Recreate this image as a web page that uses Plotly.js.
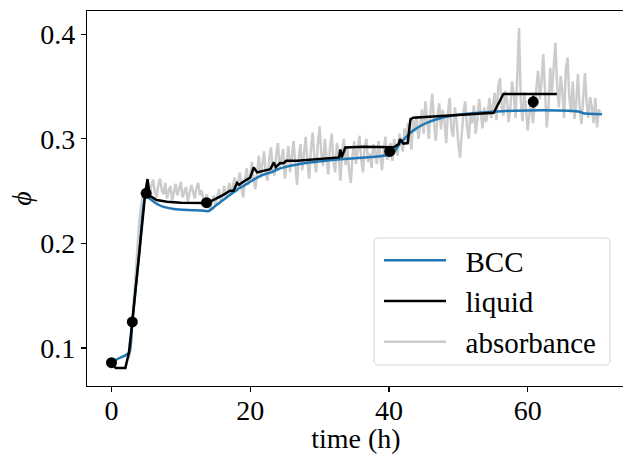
<!DOCTYPE html>
<html>
<head>
<meta charset="utf-8">
<script src="https://cdn.plot.ly/plotly-3.0.1.min.js"></script>
<style>
html,body{margin:0;padding:0;overflow:hidden;background:#fff;}
#chart{width:630px;height:454px;}
</style>
</head>
<body>
<div id="chart"></div>
<script>
// BCC model curve
var bccTime = [0, 1, 2, 2.6, 3.0, 4.0, 4.9, 5.5, 6.5, 7.5, 9, 11, 13, 14, 15, 16, 17, 18, 19, 20, 21, 22, 23, 24, 25, 26, 28, 30, 32, 34, 36, 38, 40, 40.5, 41.5, 42.5, 43.5, 45, 47, 49, 52, 55, 58, 62, 66, 67.5, 68, 70.7];
var bccPhi  = [0.086, 0.090, 0.093, 0.096, 0.125, 0.190, 0.246, 0.243, 0.238, 0.235, 0.233, 0.232, 0.2315, 0.231, 0.236, 0.241, 0.246, 0.251, 0.255, 0.259, 0.263, 0.266, 0.268, 0.271, 0.273, 0.2745, 0.277, 0.2785, 0.280, 0.281, 0.282, 0.283, 0.2845, 0.285, 0.295, 0.302, 0.308, 0.314, 0.319, 0.322, 0.3245, 0.326, 0.327, 0.3275, 0.327, 0.326, 0.3245, 0.3235];

// liquid curve
var liqTime = [0, 0.6, 2.0, 2.5, 3.0, 4.0, 4.9, 5.2, 5.5, 6.5, 8, 10, 13.7, 14.5, 16, 17.1, 17.6, 18.1, 18.4, 19.0, 20, 20.5, 21, 22.9, 23.4, 23.7, 24.3, 24.8, 25.2, 26.8, 31.5, 32.8, 33.0, 33.2, 33.7, 36.4, 40.7, 41.4, 41.6, 42.1, 42.7, 43.1, 43.5, 47.4, 55.1, 56.5, 64.2];
var liqPhi  = [0.086, 0.081, 0.081, 0.095, 0.125, 0.190, 0.250, 0.2616, 0.2457, 0.2416, 0.2398, 0.239, 0.2387, 0.241, 0.246, 0.2505, 0.2505, 0.258, 0.256, 0.259, 0.263, 0.2727, 0.268, 0.271, 0.2775, 0.273, 0.277, 0.2767, 0.279, 0.279, 0.2816, 0.2823, 0.290, 0.2823, 0.2918, 0.2924, 0.292, 0.295, 0.2997, 0.2955, 0.296, 0.3187, 0.3203, 0.322, 0.325, 0.343, 0.343];

// absorbance measurement (time in h)
var absTime = [
  2.5, 2.75, 3, 3.25, 3.5, 3.75, 4, 4.25, 4.5, 4.75,
  5, 5.25, 5.5, 5.75, 6, 6.25, 6.5, 6.75, 7, 7.25, 7.5, 7.75, 8, 8.25, 8.5, 8.75,
  9, 9.25, 9.5, 9.75, 10, 10.25, 10.5, 10.75, 11, 11.25, 11.5, 11.75, 12, 12.25, 12.5, 12.75,
  13, 13.25, 13.5, 13.75, 14, 14.25, 14.5, 14.75, 15, 15.25, 15.5, 15.75, 16, 16.25, 16.5, 16.75,
  17, 17.25, 17.5, 17.75, 18, 18.25, 18.5, 18.75, 19, 19.25, 19.5, 19.75, 20, 20.25, 20.5, 20.75,
  21, 21.25, 21.5, 21.75, 22, 22.25, 22.5, 22.75, 23, 23.25, 23.5, 23.75, 24, 24.25, 24.5, 24.75,
  25, 25.25, 25.5, 25.75, 26, 26.25, 26.5, 26.75, 27, 27.25, 27.5, 27.75, 28, 28.25, 28.5, 28.75,
  29, 29.25, 29.5, 29.75, 30, 30.25, 30.5, 30.75, 31, 31.25, 31.5, 31.75, 32, 32.25, 32.5, 32.75,
  33, 33.25, 33.5, 33.75, 34, 34.25, 34.5, 34.75, 35, 35.25, 35.5, 35.75, 36, 36.25, 36.5, 36.75,
  37, 37.25, 37.5, 37.75, 38, 38.25, 38.5, 38.75, 39, 39.25, 39.5, 39.75,
  40, 40.25, 40.5, 40.75, 41, 41.25, 41.5, 41.75, 42, 42.25, 42.5, 42.75, 43, 43.25, 43.5, 43.75, 44, 44.25, 44.5, 44.75,
  45, 45.25, 45.5, 45.75, 46, 46.25, 46.5, 46.75, 47, 47.25, 47.5, 47.75, 48, 48.25, 48.5, 48.75,
  49, 49.25, 49.5, 49.75, 50, 50.25, 50.5, 50.75, 51, 51.25, 51.5, 51.75, 52, 52.25, 52.5, 52.75,
  53, 53.25, 53.5, 53.75, 54, 54.25, 54.5, 54.75,
  55, 55.25, 55.5, 55.75, 56, 56.25, 56.5, 56.75, 57, 57.25, 57.5, 57.75, 58, 58.25, 58.5, 58.75,
  59, 59.25, 59.5, 59.75, 60, 60.25, 60.5, 60.75, 61, 61.25, 61.5, 61.75,
  62, 62.25, 62.5, 62.75, 63, 63.25, 63.5, 63.75, 64, 64.25, 64.5, 64.75, 65, 65.25, 65.5, 65.75,
  66, 66.25, 66.5, 66.75, 67, 67.25, 67.5, 67.75, 68, 68.25, 68.5, 68.75, 69, 69.25, 69.5, 69.75, 70, 70.25, 70.5
];
var absPhi = [
  0.090, 0.100, 0.125, 0.150, 0.175, 0.200, 0.220, 0.235, 0.245, 0.250,
  0.252, 0.258, 0.246, 0.255, 0.261, 0.249, 0.244, 0.256, 0.262, 0.251, 0.247, 0.258, 0.243, 0.250, 0.255, 0.241,
  0.248, 0.257, 0.246, 0.252, 0.259, 0.244, 0.249, 0.254, 0.240, 0.247, 0.256, 0.250, 0.243, 0.253, 0.258, 0.246,
  0.251, 0.242, 0.238, 0.247, 0.236, 0.233, 0.241, 0.246, 0.237, 0.244, 0.252, 0.240, 0.246, 0.255, 0.243, 0.250,
  0.258, 0.246, 0.253, 0.263, 0.249, 0.257, 0.268, 0.252, 0.244, 0.262, 0.272, 0.256, 0.264, 0.278, 0.260, 0.252,
  0.270, 0.284, 0.263, 0.275, 0.288, 0.266, 0.260, 0.281, 0.292, 0.270, 0.265, 0.285, 0.296, 0.272, 0.282, 0.290,
  0.262, 0.279, 0.293, 0.268, 0.286, 0.298, 0.275, 0.256, 0.283, 0.295, 0.270, 0.288, 0.302, 0.277, 0.262, 0.290,
  0.306, 0.282, 0.268, 0.295, 0.312, 0.286, 0.274, 0.300, 0.284, 0.266, 0.292, 0.305, 0.279, 0.268, 0.296, 0.284,
  0.260, 0.287, 0.300, 0.275, 0.292, 0.270, 0.258, 0.284, 0.298, 0.276, 0.290, 0.303, 0.281, 0.268, 0.293, 0.300,
  0.278, 0.286, 0.272, 0.295, 0.288, 0.276, 0.298, 0.283, 0.270, 0.291, 0.302, 0.280,
  0.287, 0.296, 0.279, 0.300, 0.292, 0.284, 0.305, 0.296, 0.288, 0.310, 0.298, 0.315, 0.302, 0.290, 0.318, 0.307, 0.322, 0.300, 0.312, 0.328,
  0.305, 0.336, 0.318, 0.300, 0.326, 0.343, 0.315, 0.298, 0.322, 0.334, 0.309, 0.328, 0.317, 0.296, 0.325, 0.339,
  0.310, 0.302, 0.330, 0.318, 0.296, 0.282, 0.305, 0.326, 0.336, 0.312, 0.300, 0.324, 0.315, 0.332, 0.305, 0.318,
  0.338, 0.322, 0.310, 0.330, 0.316, 0.326, 0.339, 0.320,
  0.335, 0.344, 0.318, 0.350, 0.358, 0.330, 0.322, 0.346, 0.338, 0.316, 0.330, 0.355, 0.342, 0.320, 0.360, 0.406,
  0.338, 0.317, 0.345, 0.330, 0.308, 0.325, 0.340, 0.315, 0.332, 0.350, 0.365, 0.338,
  0.355, 0.381, 0.340, 0.311, 0.330, 0.368, 0.345, 0.372, 0.392, 0.350, 0.330, 0.360, 0.345, 0.320, 0.366, 0.378,
  0.340, 0.325, 0.355, 0.319, 0.335, 0.362, 0.330, 0.314, 0.345, 0.363, 0.335, 0.320, 0.340, 0.330, 0.315, 0.339, 0.311, 0.328, 0.325
];

// sampled points with error bars
var ptTime = [0, 3.0, 5.0, 13.7, 40.1, 60.8];
var ptPhi  = [0.086, 0.125, 0.248, 0.239, 0.288, 0.3355];
var ptErr  = [0.001, 0.002, 0.004, 0.004, 0.003, 0.006];

var FONT = "Liberation Serif, DejaVu Serif, serif";
var GAP = "\u00a0\u00a0";

var traces = [
  {x: absTime, y: absPhi, type: 'scatter', mode: 'lines', name: GAP + 'absorbance',
   line: {color: '#cccccc', width: 2.5}, legendrank: 3, legendgroup: 'c'},
  {x: bccTime, y: bccPhi, type: 'scatter', mode: 'lines', name: GAP + 'BCC',
   line: {color: '#1f77b4', width: 2.5, shape: 'spline', smoothing: 0.6}, legendrank: 1, legendgroup: 'a'},
  {x: liqTime, y: liqPhi, type: 'scatter', mode: 'lines', name: GAP + 'liquid',
   line: {color: '#000000', width: 2.5}, legendrank: 2, legendgroup: 'b'},
  {x: ptTime, y: ptPhi, type: 'scatter', mode: 'markers', showlegend: false,
   marker: {color: '#000000', size: 11},
   error_y: {type: 'data', array: ptErr, visible: true, color: '#000000', thickness: 2, width: 0}}
];

// rounded legend frame (paper coordinates)
var bx0 = 0.5335, bx1 = 0.9721, by0 = 0.056, by1 = 0.3947, rx = 0.0093, ry = 0.0133;
var framePath = 'M' + (bx0 + rx) + ',' + by1 + ' L' + (bx1 - rx) + ',' + by1 +
  ' Q' + bx1 + ',' + by1 + ' ' + bx1 + ',' + (by1 - ry) +
  ' L' + bx1 + ',' + (by0 + ry) + ' Q' + bx1 + ',' + by0 + ' ' + (bx1 - rx) + ',' + by0 +
  ' L' + (bx0 + rx) + ',' + by0 + ' Q' + bx0 + ',' + by0 + ' ' + bx0 + ',' + (by0 + ry) +
  ' L' + bx0 + ',' + (by1 - ry) + ' Q' + bx0 + ',' + by1 + ' ' + (bx0 + rx) + ',' + by1 + ' Z';

var layout = {
  width: 630, height: 454,
  margin: {l: 87, r: 5, t: 11, b: 68},
  paper_bgcolor: '#ffffff', plot_bgcolor: '#ffffff',
  font: {family: FONT, size: 28, color: '#000000'},
  showlegend: true,
  xaxis: {
    range: [-3.53, 74.03], tickvals: [0, 20, 40, 60], ticktext: ['0', '20', '40', '60'],
    showgrid: false, zeroline: false, showline: true, mirror: true,
    linecolor: '#000000', linewidth: 1.2, ticks: 'outside', ticklen: 5, tickwidth: 1.2, tickcolor: '#000000',
    tickfont: {family: FONT, size: 28}, ticklabelstandoff: -6,
    title: {text: 'time (h)', font: {family: FONT, size: 28}, standoff: 8}
  },
  yaxis: {
    range: [0.0637, 0.4223], tickvals: [0.1, 0.2, 0.3, 0.4], ticktext: ['0.1', '0.2', '0.3', '0.4'],
    showgrid: false, zeroline: false, showline: true, mirror: true,
    linecolor: '#000000', linewidth: 1.2, ticks: 'outside', ticklen: 5, tickwidth: 1.2, tickcolor: '#000000',
    tickfont: {family: FONT, size: 28},
    title: {text: '<i>ϕ</i>', font: {family: FONT, size: 28}, standoff: 0}
  },
  shapes: [{
    type: 'path', xref: 'paper', yref: 'paper', path: framePath, layer: 'above',
    fillcolor: 'rgba(255,255,255,0.8)', line: {color: '#d5d5d5', width: 1}
  }],
  legend: {
    x: 0.5428, y: 0.4027, xanchor: 'left', yanchor: 'top',
    bgcolor: 'rgba(0,0,0,0)', borderwidth: 0,
    font: {family: FONT, size: 29}, traceorder: 'grouped', tracegroupgap: 0,
    itemwidth: 62
  }
};

Plotly.newPlot('chart', traces, layout, {displayModeBar: false, staticPlot: true});
</script>
</body>
</html>
